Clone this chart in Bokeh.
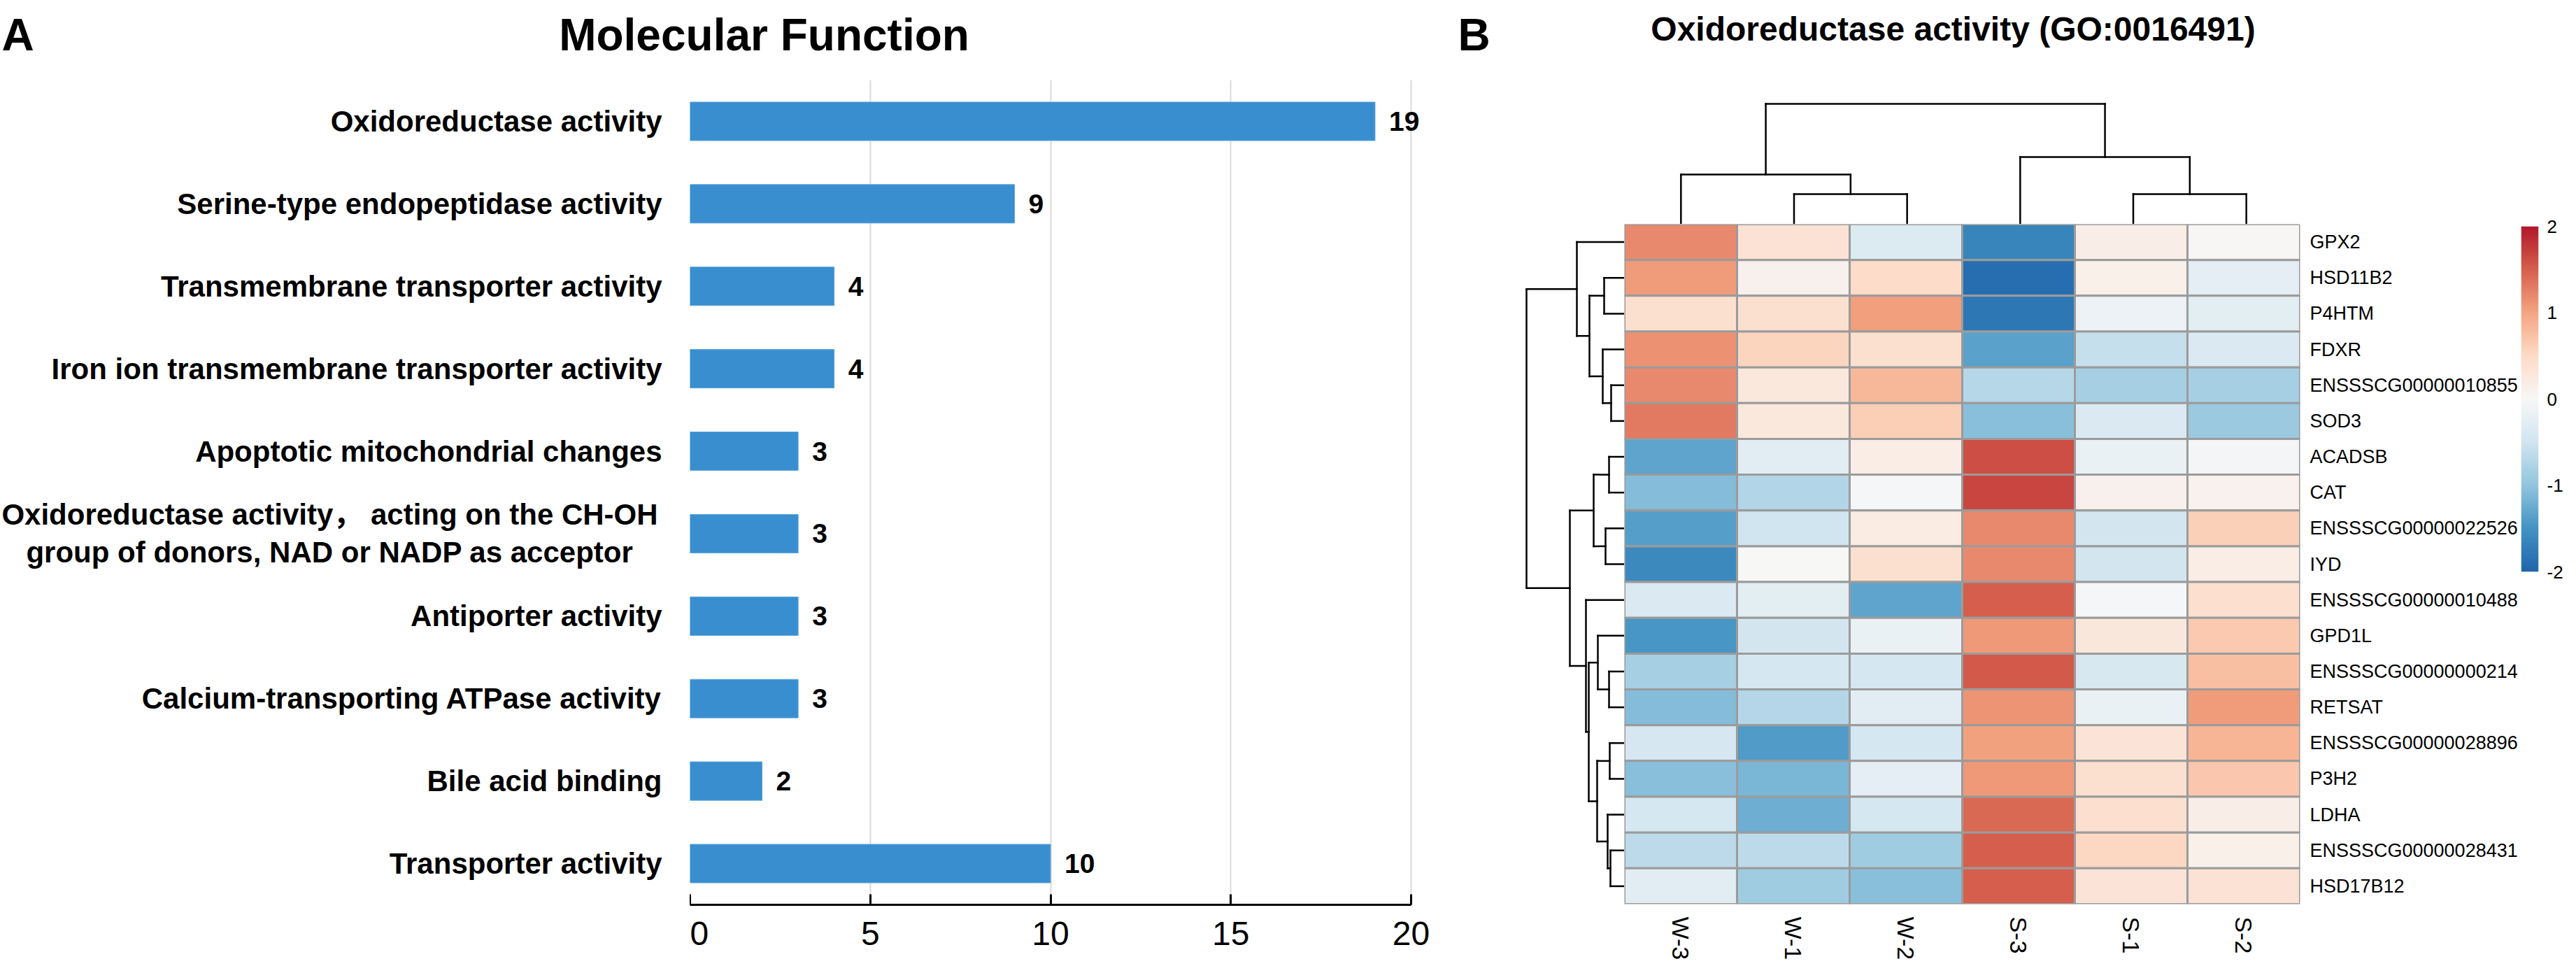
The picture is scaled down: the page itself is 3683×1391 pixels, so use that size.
import math
import numpy as np
from bokeh.plotting import figure
from bokeh.models import ColumnDataSource, Range1d, FactorRange, FixedTicker, LinearColorMapper
from bokeh.layouts import row, column
from bokeh.transform import transform
from bokeh.core.properties import value
from bokeh.embed import file_html
from bokeh.resources import INLINE

# ---------------- data ----------------
categories = [
    "Oxidoreductase activity",
    "Serine-type endopeptidase activity",
    "Transmembrane transporter activity",
    "Iron ion transmembrane transporter activity",
    "Apoptotic mitochondrial changes",
    "Oxidoreductase activity\uff0c acting on the CH-OH\ngroup of donors, NAD or NADP as acceptor",
    "Antiporter activity",
    "Calcium-transporting ATPase activity",
    "Bile acid binding",
    "Transporter activity",
]
gene_counts = [19, 9, 4, 4, 3, 3, 3, 3, 2, 10]
count_ticks = [0, 5, 10, 15, 20]

genes = ["GPX2", "HSD11B2", "P4HTM", "FDXR", "ENSSSCG00000010855", "SOD3", "ACADSB", "CAT",
         "ENSSSCG00000022526", "IYD", "ENSSSCG00000010488", "GPD1L", "ENSSSCG00000000214",
         "RETSAT", "ENSSSCG00000028896", "P3H2", "LDHA", "ENSSSCG00000028431", "HSD17B12"]
samples = ["W-3", "W-1", "W-2", "S-3", "S-1", "S-2"]
W_3 = [1.20, 1.07, 0.41, 1.13, 1.20, 1.31, -1.32, -1.09, -1.38, -1.60, -0.38, -1.46, -0.83, -1.09, -0.43, -1.06, -0.45, -0.67, -0.28]
W_1 = [0.37, 0.12, 0.42, 0.56, 0.27, 0.27, -0.28, -0.74, -0.49, 0.00, -0.26, -0.47, -0.45, -0.72, -1.41, -1.15, -1.23, -0.66, -0.88]
W_2 = [-0.35, 0.48, 1.04, 0.41, 0.82, 0.61, 0.18, -0.03, 0.21, 0.41, -1.32, -0.16, -0.45, -0.28, -0.45, -0.25, -0.45, -0.88, -1.06]
S_3 = [-1.65, -1.90, -1.80, -1.35, -0.71, -1.05, 1.61, 1.68, 1.20, 1.20, 1.50, 1.08, 1.54, 1.11, 1.02, 1.08, 1.43, 1.50, 1.50]
S_1 = [0.16, 0.14, -0.15, -0.58, -0.83, -0.36, -0.16, 0.12, -0.47, -0.47, -0.03, 0.29, -0.42, -0.16, 0.34, 0.41, 0.43, 0.54, 0.34]
S_2 = [0.02, -0.24, -0.26, -0.38, -0.83, -0.93, -0.05, 0.10, 0.60, 0.18, 0.43, 0.66, 0.75, 1.07, 0.85, 0.68, 0.16, 0.14, 0.37]
sample_values = [W_3, W_1, W_2, S_3, S_1, S_2]

# hierarchical clustering (left, right, height); leaves in display order, merges numbered after leaves
col_linkage = [(1, 2, 4.3), (4, 5, 4.3), (0, 6, 7.1), (3, 7, 9.6), (8, 9, 17.2)]
row_linkage = [(1, 2, 2.9), (4, 5, 1.9), (3, 20, 3.1), (19, 21, 5.0), (0, 22, 6.8),
               (6, 7, 2.2), (8, 9, 2.7), (24, 25, 4.4), (12, 13, 2.2), (11, 27, 3.8),
               (14, 15, 2.1), (17, 18, 2.0), (16, 30, 2.4), (29, 31, 3.9), (28, 32, 5.1),
               (10, 33, 5.5), (26, 34, 7.8), (23, 35, 14.0)]
scale_ticks = [-2, -1, 0, 1, 2]

# ---------------- layout constants (px) ----------------
PAGE_W, PAGE_H = 3667, 1375
FONT = value("Liberation Sans, Noto Sans CJK SC")
LEFT_W = 2080
TITLE_H = 114
LBL_W = 986
AXIS_W = 1031
BAR_BOTTOM = 82
HM_LEFT, HM_TOP, HM_W, HM_H = 2322, 320, 970, 979
HM_BOTTOM = PAGE_H - HM_TOP - HM_H
CB_X = 3602
HM_RIGHT_BORDER = CB_X - HM_LEFT - HM_W
DPX = 10.0  # px per dendrogram distance unit
COL_W = HM_W / len(samples)


def clean(p):
    p.outline_line_color = None
    p.background_fill_color = "white"
    p.border_fill_color = "white"
    for g in p.grid:
        g.grid_line_color = None
    return p


def base_fig(**kw):
    kw.setdefault("min_border_left", 0)
    kw.setdefault("min_border_right", 0)
    kw.setdefault("min_border_top", 0)
    kw.setdefault("min_border_bottom", 0)
    return clean(figure(output_backend="svg", toolbar_location=None, **kw))


# ---------------- panel A ----------------
ta = base_fig(width=LEFT_W, height=TITLE_H, x_range=Range1d(0, LEFT_W), y_range=Range1d(TITLE_H, 0),
              x_axis_location=None, y_axis_location=None)
ta.text(x=[2], y=[49], text=["A"], text_font=FONT, text_font_style="bold",
        text_font_size=value("64px"), text_baseline="alphabetic", text_align="left", text_color="black")
ta.text(x=[1092], y=[49], text=["Molecular Function"], text_font=FONT, text_font_style="bold",
        text_font_size=value("64px"), text_baseline="alphabetic", text_align="center", text_color="black")

bar_h = PAGE_H - TITLE_H
fb_w = LEFT_W - LBL_W
y_cat = FactorRange(factors=categories[::-1], range_padding=0)
fb = base_fig(width=fb_w, height=bar_h, x_range=Range1d(0, count_ticks[-1] * fb_w / AXIS_W),
              y_range=y_cat, y_axis_location=None, min_border_bottom=BAR_BOTTOM)
fb.xgrid.ticker = FixedTicker(ticks=count_ticks)
fb.xgrid.grid_line_color = "#d9d9d9"
fb.xgrid.grid_line_width = 2
fb.hbar(y=categories, left=0, right=gene_counts, height=0.467, fill_color="#388ECF", line_color="#5DA6DC", line_width=1)
fb.text(x=gene_counts, y=categories, text=[str(v) for v in gene_counts], x_offset=20,
        text_font=FONT, text_font_style="bold", text_font_size=value("39px"),
        text_baseline="middle", text_align="left", text_color="black")
ax = fb.xaxis[0]
ax.ticker = FixedTicker(ticks=count_ticks)
ax.bounds = (count_ticks[0], count_ticks[-1])
ax.major_tick_in = 15
ax.major_tick_out = 0
ax.minor_tick_line_color = None
ax.axis_line_width = 3
ax.major_tick_line_width = 3
ax.axis_line_color = "black"
ax.major_tick_line_color = "black"
ax.major_label_text_font = "Liberation Sans"
ax.major_label_text_font_size = "48px"
ax.major_label_text_color = "black"
ax.major_label_standoff = 24

tl = base_fig(width=LBL_W, height=bar_h, x_range=Range1d(0, LBL_W), y_range=y_cat,
              x_axis_location=None, y_axis_location=None, min_border_bottom=BAR_BOTTOM)
s_x, s_y, s_t, s_off, s_al = [], [], [], [], []
for c in categories:
    lines = c.split("\n")
    if len(lines) == 1:
        s_x.append(946); s_y.append(c); s_t.append(c); s_off.append(0); s_al.append("right")
    else:
        n = len(lines)
        for i, ln in enumerate(lines):
            s_x.append(471); s_y.append(c); s_t.append(ln); s_off.append((i - (n - 1) / 2) * 54); s_al.append("center")
lsrc = ColumnDataSource(dict(x=s_x, y=s_y, t=s_t, off=s_off, al=s_al))
tl.text(x="x", y="y", text="t", y_offset="off", text_align="al", source=lsrc, text_font=FONT,
        text_font_style="bold", text_font_size=value("42px"), text_baseline="middle", text_color="black")

left = column(ta, row(tl, fb))

# ---------------- panel B ----------------
anchors = ["#2166ac", "#4393c3", "#92c5de", "#d1e5f0", "#f7f7f7", "#fddbc7", "#f4a582", "#d6604d", "#b2182b"]
rgb = np.array([[int(h[i:i + 2], 16) for i in (1, 3, 5)] for h in anchors], dtype=float)
pos = np.linspace(0, 1, len(anchors))
tt = np.linspace(0, 1, 256)
palette = ["#%02x%02x%02x" % tuple(int(round(np.interp(t, pos, rgb[:, k]))) for k in range(3)) for t in tt]
mapper = LinearColorMapper(palette=palette, low=scale_ticks[0], high=scale_ticks[-1])


def dendro_segments(linkage, n):
    ps = {i: i + 0.5 for i in range(n)}
    hs = {i: 0.0 for i in range(n)}
    p0, h0, p1, h1 = [], [], [], []
    for k, (a, b, h) in enumerate(linkage):
        for ch in (a, b):
            p0.append(ps[ch]); h0.append(hs[ch]); p1.append(ps[ch]); h1.append(h)
        p0.append(ps[a]); h0.append(h); p1.append(ps[b]); h1.append(h)
        ps[n + k] = (ps[a] + ps[b]) / 2
        hs[n + k] = h
    return p0, h0, p1, h1


top_w = CB_X - LEFT_W
top = base_fig(width=top_w, height=HM_TOP,
               x_range=Range1d((LEFT_W - HM_LEFT) / COL_W, (CB_X - HM_LEFT) / COL_W),
               y_range=Range1d(0, HM_TOP / DPX), x_axis_location=None, y_axis_location=None)
cp0, ch0, cp1, ch1 = dendro_segments(col_linkage, len(samples))
top.segment(x0=cp0, y0=ch0, x1=cp1, y1=ch1, line_color="black", line_width=2.5, line_cap="square")
top.text(x=[(2084 - HM_LEFT) / COL_W], y=[(HM_TOP - 49) / DPX], text=["B"], text_font=FONT,
         text_font_style="bold", text_font_size=value("64px"), text_baseline="alphabetic",
         text_align="left", text_color="black")
top.text(x=[(2792 - HM_LEFT) / COL_W], y=[(HM_TOP - 41) / DPX], text=["Oxidoreductase activity (GO:0016491)"],
         text_font=FONT, text_font_style="bold", text_font_size=value("48px"), text_baseline="alphabetic",
         text_align="center", text_color="black")

rd_w = HM_LEFT - LEFT_W
rd = base_fig(width=rd_w, height=PAGE_H - HM_TOP, x_range=Range1d(rd_w / DPX, 0),
              y_range=Range1d(len(genes), 0), x_axis_location=None, y_axis_location=None,
              min_border_bottom=HM_BOTTOM)
rp0, rh0, rp1, rh1 = dendro_segments(row_linkage, len(genes))
rd.segment(x0=rh0, y0=rp0, x1=rh1, y1=rp1, line_color="black", line_width=2.5, line_cap="square")

hx, hy, hv = [], [], []
for s, vals in zip(samples, sample_values):
    for g, v in zip(genes, vals):
        hx.append(s); hy.append(g); hv.append(v)
hsrc = ColumnDataSource(dict(x=hx, y=hy, v=hv))
hm = base_fig(width=HM_W + HM_RIGHT_BORDER, height=PAGE_H - HM_TOP,
              x_range=FactorRange(factors=samples), y_range=FactorRange(factors=genes[::-1]),
              x_axis_location="below", y_axis_location="right",
              min_border_right=HM_RIGHT_BORDER, min_border_bottom=HM_BOTTOM)
hm.rect(x="x", y="y", width=1, height=1, source=hsrc, fill_color=transform("v", mapper),
        line_color="#9b9b9b", line_width=3)
for a in (hm.xaxis[0], hm.yaxis[0]):
    a.axis_line_color = None
    a.major_tick_line_color = None
    a.minor_tick_line_color = None
    a.major_label_text_font = "Liberation Sans"
    a.major_label_text_color = "black"
hm.yaxis[0].major_label_text_font_size = "27px"
hm.yaxis[0].major_label_standoff = 8
hm.xaxis[0].major_label_text_font_size = "34px"
hm.xaxis[0].major_label_standoff = 12
hm.xaxis[0].major_label_orientation = -math.pi / 2

cb = base_fig(width=PAGE_W - CB_X, height=PAGE_H, x_range=Range1d(0, 1),
              y_range=Range1d(scale_ticks[0], scale_ticks[-1]), x_axis_location=None,
              y_axis_location="right", min_border_left=2, min_border_right=36,
              min_border_top=323, min_border_bottom=558)
ramp = np.linspace(scale_ticks[0], scale_ticks[-1], 256).reshape(-1, 1)
cb.image(image=[ramp], x=0, y=scale_ticks[0], dw=1, dh=scale_ticks[-1] - scale_ticks[0], color_mapper=mapper)
ca = cb.yaxis[0]
ca.ticker = FixedTicker(ticks=scale_ticks)
ca.major_label_overrides = {t: str(t) for t in scale_ticks}
ca.axis_line_color = None
ca.major_tick_line_color = None
ca.minor_tick_line_color = None
ca.major_label_text_font = "Liberation Sans"
ca.major_label_text_font_size = "26px"
ca.major_label_text_color = "black"
ca.major_label_standoff = 6

right = row(column(top, row(rd, hm)), cb)
layout = row(left, right)

open("out.html", "w").write(file_html(layout, INLINE))
